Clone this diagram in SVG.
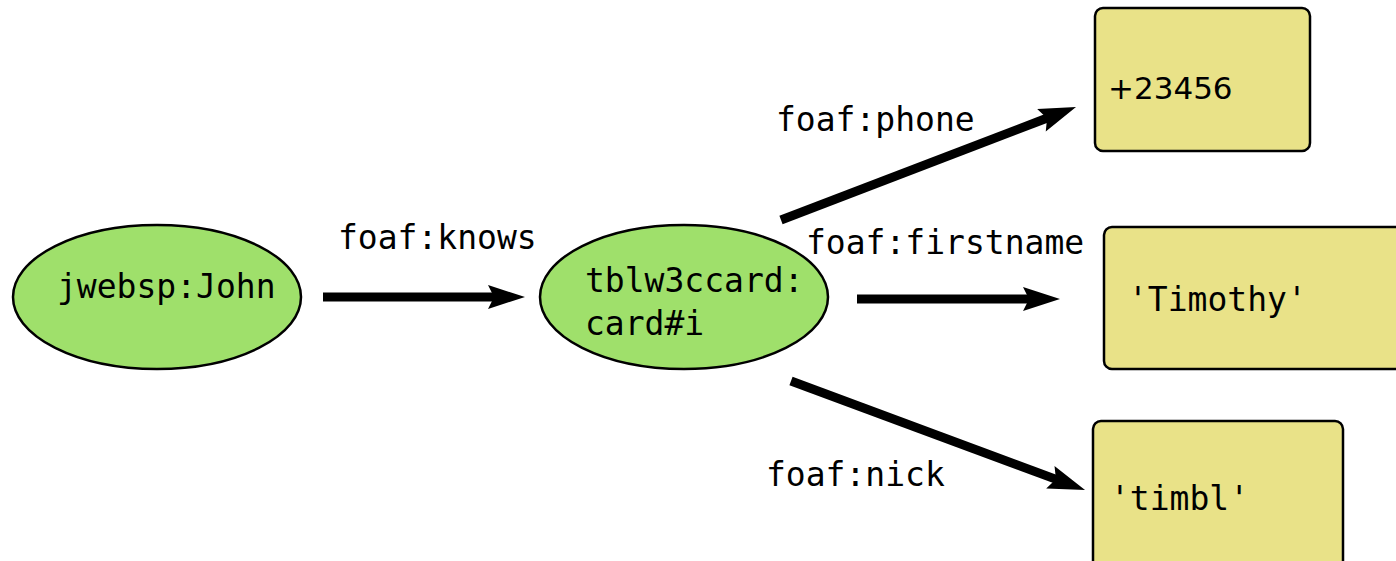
<svg xmlns="http://www.w3.org/2000/svg" width="1396" height="561" viewBox="0 0 1396 561">
<style>
.res{fill:#9fe06b;stroke:#000;stroke-width:2.5}
.lit{fill:#e9e288;stroke:#000;stroke-width:2.5}
.t{font-family:"DejaVu Sans Mono","Liberation Mono",monospace;font-size:33px;fill:#000}
.ts{font-family:"DejaVu Sans","Liberation Sans",sans-serif;font-size:31px;fill:#000}
.edge{stroke:#000;stroke-width:9;fill:none;marker-end:url(#arr)}
</style>
<defs>
<marker id="arr" markerUnits="userSpaceOnUse" orient="auto" refX="0" refY="0" markerWidth="60" markerHeight="40" overflow="visible">
<path d="M30,0 L-7,-12 L-1,0 L-7,12 Z" fill="#000"/>
</marker>
</defs>
<rect width="1396" height="561" fill="#fff"/>
<g id="connectors">
<line class="edge" x1="323" y1="297" x2="495" y2="297"/>
<line class="edge" x1="781" y1="220" x2="1048" y2="117.8"/>
<line class="edge" x1="857" y1="299" x2="1030" y2="299"/>
<line class="edge" x1="791" y1="381" x2="1056.9" y2="479.6"/>
<text class="t" x="338" y="249">foaf:knows</text>
<text class="t" x="776" y="131">foaf:phone</text>
<text class="t" x="806" y="254">foaf:firstname</text>
<text class="t" x="766" y="486">foaf:nick</text>
</g>
<g id="john">
<ellipse class="res" cx="157" cy="297" rx="144" ry="72"/>
<text class="t" x="57" y="298">jwebsp:John</text>
</g>
<g id="card">
<ellipse class="res" cx="684" cy="297" rx="144" ry="72"/>
<text class="t" x="585" y="292">tblw3ccard:</text>
<text class="t" x="585" y="335">card#i</text>
</g>
<g id="phone">
<rect class="lit" x="1095" y="8" width="215" height="143" rx="8"/>
<text class="ts" x="1108" y="99">+23456</text>
</g>
<g id="firstname">
<rect class="lit" x="1104" y="227" width="310" height="142" rx="8"/>
<text class="t" x="1128" y="311">'Timothy'</text>
</g>
<g id="nick">
<rect class="lit" x="1093" y="421" width="250" height="160" rx="8"/>
<text class="t" x="1110" y="510">'timbl'</text>
</g>
</svg>
